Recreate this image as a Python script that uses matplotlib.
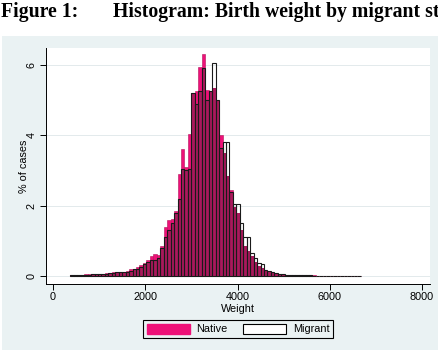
import matplotlib
matplotlib.use("Agg")
import matplotlib.pyplot as plt
import matplotlib.patches as mpatches
import numpy as np

plt.rcParams['font.family'] = ['Liberation Sans', 'DejaVu Sans']

# bins: 75 g wide, starting at 375 g
bin_start = 375
bin_width = 75

# % of cases per bin
native = [0.02, 0.03, 0.03, 0.04, 0.05, 0.05, 0.05, 0.06, 0.07, 0.07,
          0.08, 0.09, 0.10, 0.11, 0.12, 0.12, 0.15, 0.20, 0.19, 0.25,
          0.30, 0.38, 0.45, 0.58, 0.62, 0.60, 0.85, 1.38, 1.60, 1.62,
          1.85, 2.90, 3.60, 3.10, 4.05, 5.20, 5.25, 5.95, 6.30, 5.30,
          5.25, 5.35, 5.00, 4.00, 3.50, 2.85, 2.45, 1.95, 1.80, 1.30,
          0.85, 0.72, 0.58, 0.40, 0.28, 0.22, 0.15, 0.12, 0.09, 0.07,
          0.05, 0.04, 0.03, 0.03, 0.03, 0.02, 0.02, 0.02, 0.02, 0.015,
          0.015, 0.01, 0.01, 0.01, 0.0, 0.01, 0.0, 0.01, 0.0, 0.0,
          0.01, 0.0, 0.01, 0.01]
migrant = [0.02, 0.02, 0.03, 0.03, 0.04, 0.04, 0.05, 0.05, 0.06, 0.06,
           0.07, 0.08, 0.09, 0.10, 0.10, 0.11, 0.12, 0.15, 0.20, 0.20,
           0.25, 0.33, 0.40, 0.45, 0.45, 0.50, 0.80, 1.10, 1.30, 1.50,
           1.80, 2.20, 3.05, 3.00, 3.05, 5.20, 4.90, 5.25, 5.90, 5.00,
           5.25, 6.05, 5.00, 3.65, 3.80, 3.80, 2.40, 2.05, 2.05, 1.50,
           1.10, 1.10, 0.65, 0.50, 0.37, 0.35, 0.18, 0.15, 0.12, 0.09,
           0.07, 0.05, 0.04, 0.04, 0.03, 0.03, 0.02, 0.02, 0.02, 0.015,
           0.01, 0.01, 0.01, 0.01, 0.0, 0.01, 0.01, 0.0, 0.0, 0.0,
           0.0, 0.0, 0.0, 0.0]

xticks = [0, 2000, 4000, 6000, 8000]
yticks = [0, 2, 4, 6]

pink = '#EE1178'
dark = '#AA185C'   # where the two histograms overlap
bg = '#EAF2F3'

edges = bin_start + bin_width * np.arange(len(native))
overlap = np.minimum(native, migrant)

fig = plt.figure(figsize=(4.38, 3.5), dpi=100)
fig.patch.set_facecolor('white')

# Stata style graph region below the title
fig.patches.append(mpatches.Rectangle((2 / 438, 0), 1, 1 - 36 / 350,
                                      transform=fig.transFigure,
                                      facecolor=bg, edgecolor='none', zorder=-10))

# title runs off the right edge, as in the original
fig.text(1 / 438, 1 - 17 / 350, 'Figure 1:', family='Liberation Serif',
         weight='bold', fontsize=14.2, va='baseline')
fig.text(113 / 438, 1 - 17 / 350, 'Histogram: Birth weight by migrant status',
         family='Liberation Serif', weight='bold', fontsize=14.2, va='baseline')

ax = fig.add_axes([46 / 438, 1 - 284 / 350, 384 / 438, 236 / 350])
ax.set_facecolor('white')

ax.bar(edges, native, width=bin_width, align='edge', color=pink,
       edgecolor='#B3125A', linewidth=0.4, label='Native', zorder=2)
ax.bar(edges, overlap, width=bin_width, align='edge', color=dark,
       edgecolor='none', zorder=2.5)
ax.bar(edges, migrant, width=bin_width, align='edge', fill=False,
       edgecolor='#1a1a1a', linewidth=0.8, label='Migrant', zorder=3)

ax.set_xlim(-152, 8173)
ax.set_ylim(-0.227, 6.48)
ax.set_xticks(xticks)
ax.set_yticks(yticks)
ax.tick_params(axis='x', length=4, width=0.7, pad=2, labelsize=7.8)
ax.tick_params(axis='y', length=4, width=0.7, pad=3, labelsize=7.8,
               labelrotation=90)
for lbl in ax.get_yticklabels():
    lbl.set_va('center')

# Grid
ax.grid(axis='y', color='#E3EAEC', linewidth=0.7, zorder=0)
ax.set_axisbelow(True)

for s in ['top', 'right']:
    ax.spines[s].set_visible(False)
for s in ['left', 'bottom']:
    ax.spines[s].set_linewidth(0.7)

ax.set_xlabel('Weight', fontsize=7.8, labelpad=1)
ax.set_ylabel('% of cases', fontsize=7.8)
ax.yaxis.set_label_coords(-0.045, 0.5)

# Legend
h1 = mpatches.Patch(facecolor=pink, edgecolor=pink)
h2 = mpatches.Patch(facecolor='white', edgecolor='black', linewidth=0.8)
leg = fig.legend([h1, h2], ['Native', 'Migrant'], loc='center',
                 bbox_to_anchor=(238 / 438, 1 - 329 / 350), ncol=2,
                 fontsize=7.8, handlelength=4, handleheight=1.1,
                 columnspacing=1.4, handletextpad=0.6, borderpad=0.35,
                 fancybox=False, framealpha=1)
leg.get_frame().set_edgecolor('black')
leg.get_frame().set_facecolor(bg)
leg.get_frame().set_linewidth(0.8)

plt.savefig('out.png', dpi=100)
